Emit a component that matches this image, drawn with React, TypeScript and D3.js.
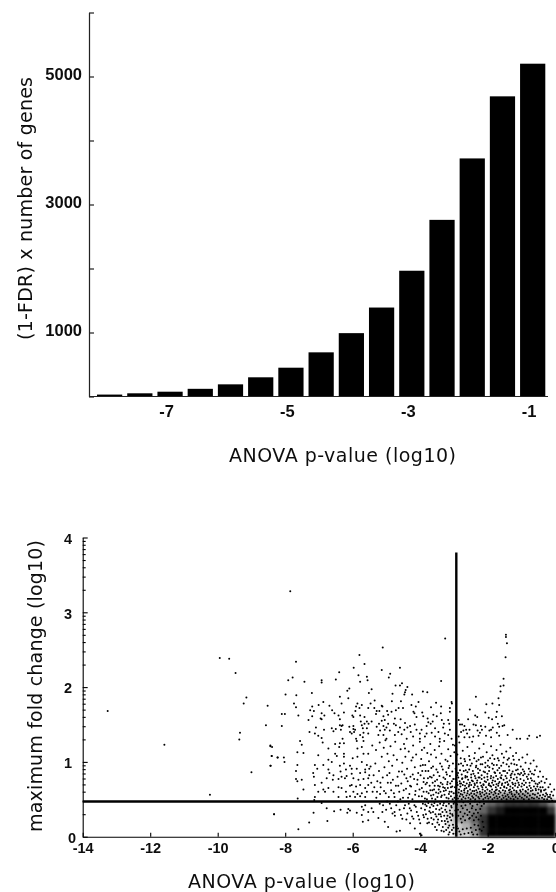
import React, { useRef, useEffect } from "react";
import { select, scaleLinear, scaleBand, axisLeft, axisBottom, range } from "d3";

// top chart
const barBins = [-8, -7.5, -7, -6.5, -6, -5.5, -5, -4.5, -4, -3.5, -3, -2.5, -2, -1.5, -1];
const barValues = [30, 50, 75, 120, 190, 300, 450, 690, 990, 1390, 1965, 2760, 3720, 4690, 5200];
const barYTicks = [0, 1000, 2000, 3000, 4000, 5000, 6000];
const barYLabels = [1000, 3000, 5000];
const barXLabels = [-7, -5, -3, -1];

// bottom chart
const scatterXTicks = [-14, -12, -10, -8, -6, -4, -2, 0];
const scatterYLabels = [0, 1, 2, 3, 4];
const minorFactors = [2, 3, 4, 5, 6, 7, 8, 9];
const cutoffP = -2.93;
const cutoffFold = 0.47;
const cutoffTop = 3.8;

// dots that could be read one by one (log10 p, log10 fold)
const sparsePoints = [
  [-13.26,1.68],[-11.58,1.23],[-10.23,.56],[-9.94,2.39],[-9.66,2.38],[-9.47,2.19],[-9.15,1.86],[-9.23,1.78],[-8.52,1.75],[-8.57,1.49],
  [-9.34,1.39],[-9.36,1.3],[-8.44,1.22],[-8.39,1.2],[-8.4,1.08],[-8.23,1.06],[-8.43,.95],[-9,.86],[-8.33,.3],[-7.85,3.28],[-3.26,2.65],
  [-1.46,2.7],[-1.46,2.67],[-1.43,2.585],[-1.47,2.4],
  [-5.8,2.43],[-7.68,2.34],[-5.65,2.31],[-5.97,2.26],[-6.4,2.2],[-5.83,2.16],[-7.78,2.13],[-7.91,2.09],[-6.5,2.1],[-6.92,2.09],[-6.92,2.06],
  [-7.43,2.07],[-5.58,2.14],[-5.78,2.07],[-5.56,2.09],[-6.1,1.98],[-6.16,1.95],[-7.21,1.92],[-7.99,1.9],[-7.67,1.89],[-5.52,1.92],[-6.38,1.87],
  [-6.13,1.85],[-6.87,1.8],[-7.74,1.78],[-6.33,1.78],[-7.01,1.76],[-7.68,1.73],[-7.2,1.74],[-6.69,1.75],[-5.86,1.78],[-5.73,1.76],[-5.9,1.74],
  [-5.8,1.72],[-7.26,1.69],[-7.15,1.68],[-6.61,1.69],[-5.92,1.68],[-5.54,1.72],[-6.26,1.66],[-6.92,1.65],[-6.54,1.65],[-8.1,1.64],[-8.01,1.64],
  [-7.61,1.62],[-7.2,1.61],[-6.84,1.62],[-6.42,1.62],[-6.01,1.62],[-5.98,1.6],[-5.78,1.62],[-5.65,1.6],[-6.95,1.58],[-6.92,1.57],[-7.31,1.56],
  [-6.38,1.57],[-5.76,1.54],[-5.58,1.54],[-8.1,1.48],[-6.38,1.49],[-6.33,1.48],[-6.3,1.49],[-5.98,1.48],[-5.73,1.49],[-5.65,1.51],[-5.53,1.51],
  [-7.09,1.46],[-6.62,1.45],[-6.5,1.44],[-6.1,1.47],[-5.98,1.44],[-7.28,1.4],[-6.85,1.43],[-6.57,1.41],[-6.35,1.43],[-6.08,1.4],[-5.93,1.43],
  [-5.7,1.45],[-5.58,1.45],[-7.12,1.38],[-7.02,1.35],[-6.92,1.32],[-6.03,1.38],[-5.96,1.4],[-5.78,1.36],[-5.68,1.39],[-5.54,1.38],[-6.3,1.31],
  [-5.9,1.31],[-5.7,1.33],
  [-5.11,2.53],[-4.6,2.26],[-5.14,2.23],[-4.89,2.18],[-4.93,2.13],[-3.38,2.08],[-4.54,2.05],[-4.73,2.02],[-4.6,2.02],[-4.38,2],[-5.44,1.97],
  [-4.43,1.96],[-4.45,1.93],[-4.82,1.91],[-4.47,1.9],[-4.24,1.9],[-3.92,1.94],[-3.79,1.93],[-4.84,1.81],[-4.57,1.81],[-5.35,1.82],[-4.05,1.8],
  [-3.53,1.79],[-5.47,1.78],[-5.14,1.75],[-5.12,1.74],[-4.26,1.76],[-4.13,1.74],[-3.68,1.73],[-3.38,1.74],[-4.64,1.72],[-4.51,1.72],[-5.36,1.72],
  [-5.29,1.68],[-5.21,1.68],[-4.98,1.68],[-4.85,1.67],[-4.72,1.69],[-4.2,1.67],[-4.17,1.65],[-3.94,1.66],[-3.12,1.72],[-3.07,1.8],[-3.06,1.78],
  [-3.12,1.67],[-3.39,1.65],[-3.61,1.63],[-3.51,1.61],[-3.78,1.58],[-4.11,1.6],[-3.91,1.61],[-4.75,1.58],[-4.95,1.63],[-5.09,1.61],[-5.31,1.64],
  [-4.58,1.57],[-5.05,1.56],[-5.14,1.55],[-5.44,1.54],[-5.22,1.51],[-4.95,1.51],[-4.78,1.51],[-4.72,1.49],[-4.45,1.52],[-4.3,1.48],[-4.16,1.5],
  [-3.76,1.53],[-3.63,1.54],[-3.69,1.51],[-3.36,1.56],[-3.3,1.51],[-3.17,1.56],[-3.14,1.51],[-5.29,1.47],[-5.09,1.48],[-5,1.46],[-4.6,1.46],
  [-4.47,1.43],[-4.38,1.46],[-4.11,1.43],[-3.96,1.43],[-3.81,1.48],[-3.56,1.45],[-3.46,1.4],[-3.32,1.46],[-3.12,1.43],[-5.19,1.42],[-5.05,1.43],
  [-4.9,1.42],[-4.65,1.4],[-4.28,1.4],[-4.01,1.38],[-3.81,1.38],[-3.66,1.39],[-3.27,1.38],[-3.17,1.36],[-5.24,1.36],[-5.09,1.36],[-4.75,1.36],
  [-4.55,1.37],[-4.21,1.34],[-3.86,1.34],[-3.56,1.34],[-5,1.31],[-4.4,1.31],[-4.01,1.31],[-3.42,1.31],[-3.07,1.31],
  [-1.53,2.11],[-1.53,2.02],[-1.62,2.01],[-1.62,1.94],[-1.68,1.85],[-2.35,1.87],[-2.04,1.77],[-1.86,1.78],[-1.66,1.76],[-2.53,1.7],[-1.73,1.67],
  [-2.07,1.66],[-2.37,1.62],[-2.31,1.6],[-1.97,1.59],[-1.87,1.57],[-1.75,1.6],[-1.58,1.61],[-2.86,1.56],[-2.58,1.57],[-1.7,1.51],[-1.66,1.47],
  [-1.51,1.49],[-1.56,1.48],[-2.82,1.5],[-2.76,1.5],[-2.42,1.5],[-2.35,1.49],[-2.2,1.48],[-2.07,1.47],[-1.85,1.46],[-2.69,1.48],[-2.54,1.43],
  [-2.64,1.43],[-2.72,1.42],[-2.17,1.43],[-1.95,1.42],[-1.73,1.39],[-1.26,1.43],[-2.79,1.4],[-2.61,1.38],[-2.3,1.42],[-2.23,1.39],[-1.9,1.43],
  [-1.41,1.36],[-2.86,1.34],[-2.69,1.33],[-2.54,1.33],[-2.43,1.34],[-2.27,1.35],[-2.05,1.35],[-1.9,1.33],[-1.66,1.35],[-1.04,1.31],[-.77,1.35],
  [-.54,1.33],[-.45,1.35],[-1.14,1.31],[-.82,1.31],
  [-7.56,1.28],[-6.89,1.26],[-7.51,1.23],[-8.44,1.21],[-6.72,1.18],[-6.52,1.24],[-6.38,1.25],[-6.26,1.25],[-5.88,1.28],[-5.68,1.28],[-5.73,1.2],
  [-5.86,1.18],[-6.4,1.2],[-7.64,1.13],[-7.46,1.12],[-6.52,1.11],[-6.47,1.08],[-6.26,1.11],[-6.26,1.07],[-7.02,1.09],[-8.4,1.08],[-8.22,1.06],
  [-8.04,1.06],[-8.02,1],[-8.44,.95],[-6.72,1.03],[-6.62,1],[-6,1.05],[-5.86,1.07],[-5.68,1.11],[-5.54,1.11],[-7.64,.96],[-7.12,.96],[-7.05,.91],
  [-6.87,.96],[-6.38,.95],[-6.26,.98],[-6.08,.95],[-5.73,1],[-5.58,.96],[-7.68,.88],[-7.17,.85],[-7.15,.8],[-6.72,.9],[-6.69,.85],[-6.57,.82],
  [-6.36,.87],[-6.2,.9],[-6.03,.91],[-5.88,.91],[-5.63,.9],[-5.51,.91],[-6.33,.8],[-6.18,.81],[-6.03,.84],[-5.78,.85],[-5.63,.86],[-5.51,.82],
  [-7.68,.77],[-7.64,.74],[-7.51,.76],[-6.77,.78],[-6.59,.76],[-6.42,.77],[-6.23,.78],[-5.98,.78],[-5.83,.76],[-5.68,.77],[-5.54,.78],[-7.12,.69],
  [-6.92,.72],[-6.87,.63],[-7.46,.63],[-7.02,.6],[-6.82,.6],[-6.72,.65],[-6.57,.6],[-6.42,.66],[-6.33,.65],[-6.08,.68],[-6.03,.69],[-5.9,.67],
  [-5.78,.69],[-5.63,.65],[-5.54,.69],[-6.2,.6],[-5.98,.6],[-5.86,.57],[-5.73,.58],[-5.58,.6],[-6.42,.53],[-6.18,.53],[-6.08,.54],[-5.93,.53],
  [-5.78,.54],[-5.63,.53],[-7.63,.51],[-7.12,.53],[-7.14,.49],[-6.92,.45],[-6.77,.38],[-6.55,.34],[-6.36,.36],[-6.13,.37],[-6.08,.35],[-6.16,.32],
  [-5.88,.32],[-5.73,.4],[-5.68,.36],[-5.63,.42],[-8.33,.3],[-7.16,.32],[-6.75,.21],[-7.29,.19],[-7.61,.1],[-5.73,.29],[-5.7,.2],[-5.54,.33],[-5.54,.22],
  [-5.44,.38],[-5.39,.33],[-5.24,.25],[-5.05,.2],[-4.75,.28],[-4.3,.18],[-4.16,.11],[-4.7,.07],[-4.6,.08],[-4.01,.04],[-3.96,.02],[-3.37,.08],[-3.3,.07],[-3.51,.09],[-4.95,.13],
];

// dots estimated by eye inside the crowded cloud, less exact than the ones above
const cloudPoints = [
  [-5.42,1.22],[-5.31,1.16],[-5.2,1.26],[-5.14,1.07],[-5.08,1.19],[-5.03,1.29],[-4.97,1.11],[-4.93,1.01],[-4.88,1.21],[-4.83,.95],[-4.79,1.09],[-4.74,1.27],
  [-4.69,1.03],[-4.63,.87],[-4.58,1.17],[-4.53,.99],[-4.48,1.24],[-4.44,1.07],[-4.39,.91],[-4.34,1.14],[-4.29,.8],[-4.26,1.02],[-4.21,1.22],[-4.16,.93],
  [-4.12,1.1],[-4.06,.85],[-4.01,1.27],[-3.97,1.04],[-3.92,.96],[-3.88,1.19],[-3.84,.88],[-3.79,1.12],[-3.74,1.01],[-3.7,1.24],[-3.66,.79],[-3.62,.94],
  [-3.57,1.16],[-3.53,1.06],[-3.48,.86],[-3.44,1.21],[-3.41,.98],[-3.37,1.11],[-3.33,.9],[-3.29,1.28],[-3.25,1.03],[-3.21,.83],[-3.17,1.17],[-3.14,.95],
  [-3.1,1.08],[-3.06,.74],[-3.03,1.23],[-5.47,.94],[-5.38,.82],[-5.33,.98],[-5.27,.74],[-5.22,.88],[-5.17,.66],[-5.11,.79],[-5.06,.93],[-5.02,.58],
  [-4.96,.72],[-4.91,.85],[-4.86,.62],[-4.81,.76],[-4.76,.53],[-4.72,.68],[-4.67,.8],[-4.62,.6],[-4.56,.71],[-4.51,.52],[-4.47,.83],[-4.42,.64],
  [-4.37,.74],[-4.32,.57],[-4.27,.67],[-4.23,.5],[-4.18,.77],[-4.14,.61],[-4.09,.7],[-4.04,.54],[-3.99,.82],[-3.95,.65],[-3.9,.73],[-3.86,.51],
  [-3.81,.6],[-3.77,.78],[-3.72,.68],[-3.68,.55],[-3.63,.72],[-3.59,.63],[-3.55,.5],[-3.5,.76],[-3.46,.58],[-3.42,.67],[-3.38,.53],[-3.34,.7],
  [-3.3,.61],[-3.26,.77],[-3.22,.52],[-3.18,.65],[-3.15,.57],[-3.11,.71],[-3.07,.6],[-3.04,.5],[-5.41,.6],[-5.3,.52],[-5.19,.57],[-5.1,.42],
  [-5.01,.36],[-4.9,.44],[-4.82,.31],[-4.71,.42],[-4.61,.36],[-4.53,.24],[-4.45,.42],[-4.38,.31],[-4.31,.38],[-4.24,.27],[-4.17,.42],[-4.1,.33],
  [-4.03,.23],[-3.97,.38],[-3.91,.29],[-3.85,.43],[-3.79,.18],[-3.73,.34],[-3.67,.25],[-3.61,.41],[-3.55,.3],[-3.49,.19],[-3.43,.36],[-3.38,.27],
  [-3.32,.42],[-3.27,.21],[-3.22,.33],[-3.17,.12],[-3.12,.26],[-3.07,.39],[-3.03,.16],[-2.97,1.22],[-2.9,1.1],[-2.84,1.26],[-2.79,.98],[-2.74,1.15],
  [-2.69,1.04],[-2.65,.89],[-2.6,1.2],[-2.55,1.08],[-2.51,.95],[-2.46,1.27],[-2.42,.84],[-2.38,1.12],[-2.33,1.01],[-2.29,.91],[-2.25,1.18],[-2.2,1.06],
  [-2.16,.97],[-2.12,1.24],[-2.08,.86],[-2.03,1.13],[-1.99,1.02],[-1.95,.93],[-1.9,1.21],[-1.86,1.09],[-1.82,.96],[-1.78,.85],[-1.74,1.16],[-1.7,1.05],
  [-1.66,.92],[-1.62,1.23],[-1.58,1.11],[-1.54,.99],[-1.49,.88],[-1.45,1.14],[-1.41,1.03],[-1.37,.94],[-1.33,1.19],[-1.29,.84],[-1.25,1.08],[-1.21,.97],
  [-1.16,1.12],[-1.11,.9],[-1.07,1.03],[-1.02,.94],[-.97,1.06],[-.92,.87],[-.88,.99],[-.83,1.1],[-.78,.91],[-.73,.98],[-.69,.84],[-.64,1.02],
  [-.6,.89],[-.55,.94],[-.5,.8],[-.45,.87],[-.41,.74],[-.36,.8],[-.31,.72],[-.26,.77],[-.2,.66],[-.15,.7],[-.11,.6],[-.06,.55],[-.03,.63],[-.44,.66],
  [-.62,.74],[-.72,.78],[-.84,.8],[-.95,.82],[-1.05,.83],[-1.14,.79],[-.52,.7],[-.33,.62],[-.24,.56],[-.16,.53],[-2.9,.82],[-2.82,.71],[-2.75,.78],
  [-2.68,.64],[-2.61,.8],[-2.55,.69],[-2.47,.75],[-2.4,.61],[-2.32,.72],[-2.24,.79],[-2.16,.66],[-2.09,.74],[-2.01,.8],[-1.93,.68],[-1.85,.75],
  [-1.76,.62],[-1.68,.71],[-1.6,.78],[-1.51,.66],[-1.42,.73],[-1.34,.63],[-1.25,.7],[-2.92,.14],[-2.84,.07],[-2.77,.19],[-2.69,.04],[-2.62,.11],
  [-2.55,.24],[-2.47,.06],[-2.39,.16],[-2.31,.03],[-2.24,.1],
];

// more eye estimates for the thick band right and left of the vertical cutoff
const cloudPointsDense = [
  [-2.98,.52],[-2.95,.58],[-2.92,.55],[-2.88,.51],[-2.86,.59],[-2.83,.54],[-2.8,.57],[-2.77,.5],[-2.75,.56],[-2.72,.53],[-2.69,.59],[-2.66,.51],[-2.63,.55],[-2.6,.58],[-2.57,.52],[-2.54,.56],
  [-2.51,.5],[-2.49,.58],[-2.46,.54],[-2.43,.52],[-2.4,.57],[-2.37,.5],[-2.34,.55],[-2.31,.59],[-2.28,.53],[-2.25,.51],[-2.22,.57],[-2.19,.54],[-2.16,.59],[-2.13,.5],[-2.1,.56],[-2.07,.52],
  [-2.04,.58],[-2.01,.54],[-1.98,.51],[-1.95,.57],[-1.92,.53],[-1.89,.59],[-1.86,.5],[-1.83,.56],[-1.8,.52],[-1.77,.58],[-1.74,.54],[-1.71,.51],[-1.68,.57],[-1.65,.53],[-1.62,.59],[-1.59,.5],
  [-1.56,.55],[-1.53,.52],[-1.5,.58],[-1.47,.54],[-1.44,.5],[-1.41,.56],[-1.38,.53],[-1.35,.59],[-1.32,.51],[-1.29,.57],[-1.26,.54],[-1.23,.5],[-1.2,.56],[-1.17,.53],[-1.14,.59],[-1.11,.51],
  [-1.08,.57],[-1.05,.54],[-1.02,.6],[-.99,.52],[-.96,.57],[-.93,.5],[-.9,.55],[-.87,.6],[-.84,.53],[-.81,.58],[-.78,.5],[-.75,.55],[-.72,.61],[-.69,.52],[-.66,.57],[-.63,.51],[-.6,.56],
  [-.57,.62],[-.54,.53],[-.51,.58],[-.48,.51],[-.45,.55],[-.42,.6],[-.39,.52],[-.36,.56],[-.33,.5],[-.3,.54],[-.27,.58],[-.24,.5],[-.21,.53],[-.18,.47],[-.15,.56],[-.12,.51],[-.09,.48],
  [-2.97,.66],[-2.94,.61],[-2.89,.69],[-2.85,.63],[-2.81,.67],[-2.78,.61],[-2.74,.69],[-2.7,.62],[-2.67,.68],[-2.63,.65],[-2.59,.61],[-2.56,.67],[-2.52,.63],[-2.49,.69],[-2.45,.61],[-2.41,.66],
  [-2.38,.69],[-2.34,.62],[-2.3,.67],[-2.27,.64],[-2.23,.6],[-2.19,.68],[-2.15,.63],[-2.12,.69],[-2.08,.61],[-2.05,.66],[-2.01,.63],[-1.97,.69],[-1.94,.61],[-1.9,.67],[-1.87,.63],[-1.83,.69],
  [-1.8,.6],[-1.76,.66],[-1.73,.63],[-1.69,.68],[-1.66,.61],[-1.62,.65],[-1.58,.69],[-1.55,.62],[-1.51,.67],[-1.48,.61],[-1.44,.65],[-1.4,.69],[-1.37,.62],[-1.33,.67],[-1.3,.6],[-1.26,.65],
  [-1.22,.62],[-1.19,.68],[-1.15,.61],[-1.11,.66],[-1.07,.69],[-1.04,.62],[-1,.67],[-.96,.63],[-.92,.69],[-.88,.61],[-.84,.66],[-.8,.63],[-.76,.68],[-.72,.65],[-.67,.62],[-.63,.67],[-.58,.64],
  [-.53,.67],[-.49,.63],[-.42,.62],[-.37,.66],[-.29,.63],[-2.96,.77],[-2.91,.72],[-2.87,.79],[-2.83,.74],[-2.79,.71],[-2.76,.77],[-2.71,.73],[-2.66,.79],[-2.62,.71],[-2.58,.76],[-2.53,.72],
  [-2.49,.79],[-2.44,.74],[-2.39,.71],[-2.36,.78],[-2.31,.75],[-2.27,.79],[-2.22,.72],[-2.18,.77],[-2.13,.7],[-2.1,.79],[-2.05,.73],[-2,.76],[-1.96,.71],[-1.91,.78],[-1.87,.72],[-1.83,.79],
  [-1.78,.74],[-1.74,.7],[-1.7,.77],[-1.65,.73],[-1.62,.79],[-1.57,.71],[-1.53,.76],[-1.48,.72],[-1.44,.78],[-1.39,.7],[-1.35,.75],[-1.31,.79],[-1.27,.72],[-1.23,.77],[-1.18,.71],[-1.13,.75],
  [-1.09,.72],[-1.03,.77],[-.98,.71],[-.93,.75],[-.87,.72],[-.81,.77],[-.76,.72],[-.69,.75],[-.58,.71],[-.47,.72],[-2.95,.91],[-2.88,.85],[-2.82,.89],[-2.77,.83],[-2.71,.88],[-2.66,.81],
  [-2.6,.86],[-2.55,.9],[-2.49,.83],[-2.44,.88],[-2.38,.81],[-2.35,.93],[-2.28,.85],[-2.23,.89],[-2.18,.82],[-2.12,.87],[-2.07,.93],[-2.01,.84],[-1.96,.88],[-1.9,.81],[-1.85,.91],[-1.8,.86],
  [-1.75,.81],[-1.71,.89],[-1.64,.85],[-1.59,.82],[-1.54,.88],[-1.47,.81],[-1.42,.85],[-1.36,.89],[-1.32,.82],[-1.26,.87],[-1.2,.83],[-1.16,.89],[-1.1,.84],[-1.01,.85],[-.96,.9],[-.9,.84],
  [-.79,.83],[-.74,.87],[-.63,.83],[-2.93,1.02],[-2.86,.97],[-2.8,1.05],[-2.73,.95],[-2.67,1.01],[-2.61,.96],[-2.53,1.03],[-2.47,.98],[-2.4,1.05],[-2.34,.95],[-2.27,1.03],[-2.21,.97],[-2.14,1.07],
  [-2.07,.99],[-2,.95],[-1.93,1.05],[-1.87,.98],[-1.8,1.04],[-1.73,.96],[-1.67,1.02],[-1.6,.95],[-1.52,1.06],[-1.44,.97],[-1.37,1.05],[-1.3,.98],[-1.23,1.03],[-1.14,.96],[-3.99,.95],[-3.94,.88],
  [-3.89,.78],[-3.85,.96],[-3.8,.72],[-3.76,.88],[-3.71,.8],[-3.67,.92],[-3.64,.62],[-3.6,.82],[-3.56,.74],[-3.52,.9],[-3.47,.68],[-3.43,.81],[-3.39,.72],[-3.36,.94],[-3.31,.79],[-3.27,.65],
  [-3.23,.86],[-3.19,.73],[-3.16,.92],[-3.12,.81],[-3.09,.66],[-3.05,.87],[-3.02,.77],[-3.03,.98],[-3.95,.54],[-3.9,.6],[-3.84,.7],[-3.8,.5],[-3.75,.58],[-3.7,.62],[-3.65,.51],[-3.61,.56],
  [-3.57,.68],[-3.53,.59],[-3.49,.53],[-3.45,.63],[-3.4,.6],[-3.36,.55],[-3.32,.66],[-3.28,.56],[-3.24,.62],[-3.2,.7],[-3.16,.51],[-3.13,.6],[-3.09,.54],[-3.05,.67],[-3.01,.58],[-3.92,.44],
  [-3.86,.36],[-3.81,.41],[-3.76,.45],[-3.71,.39],[-3.66,.43],[-3.62,.33],[-3.58,.45],[-3.53,.37],[-3.49,.42],[-3.45,.3],[-3.41,.44],[-3.37,.38],[-3.34,.33],[-3.3,.45],[-3.26,.36],[-3.23,.41],
  [-3.19,.28],[-3.15,.44],[-3.12,.35],[-3.08,.41],[-3.05,.3],[-3.01,.44],[-3.89,.26],[-3.83,.3],[-3.78,.24],[-3.74,.19],[-3.69,.32],[-3.64,.17],[-3.6,.23],[-3.56,.13],[-3.52,.27],[-3.47,.23],
  [-3.44,.16],[-3.4,.3],[-3.36,.21],[-3.33,.13],[-3.29,.28],[-3.25,.17],[-3.21,.24],[-3.18,.2],[-3.14,.15],[-3.11,.31],[-3.08,.22],[-3.04,.28],[-3.01,.12],[-3.13,.06],[-3.06,.09],[-3.02,.04],
  [-3.16,.03],[-3.23,.09],[-2.98,.46],[-2.91,.43],[-2.84,.47],[-2.78,.41],[-2.72,.46],[-2.66,.42],[-2.58,.47],[-2.52,.44],[-2.45,.41],[-2.38,.47],[-2.31,.43],[-2.24,.46],[-2.18,.41],[-2.11,.44],
  [-2.88,.36],[-2.81,.33],[-2.74,.38],[-2.68,.31],[-2.61,.36],[-2.54,.33],[-2.47,.38],[-2.41,.31],[-2.35,.36],[-2.29,.32],[-2.22,.37],[-2.96,.35],[-2.93,.26],[-2.87,.28],[-2.8,.24],[-2.73,.27],
  [-2.67,.22],[-2.6,.29],[-2.53,.25],[-2.46,.28],[-2.41,.22],[-2.34,.26],[-2.27,.23],[-2.2,.28],[-2.15,.2],[-2.12,.13],[-2.18,.08],[-2.95,.04],[-2.88,.11],[-2.8,.03],[-2.74,.1],[-2.57,.05],
  [-2.5,.12],[-2.43,.03],[-2.35,.09],[-2.28,.15],[-5.45,.72],[-5.36,.66],[-5.28,.6],[-5.18,.72],[-5.07,.61],[-4.98,.82],[-4.93,.53],[-4.87,.72],[-4.78,.58],[-4.65,.68],[-4.59,.5],[-4.54,.87],
  [-4.49,.62],[-4.41,.78],[-4.36,.52],[-4.3,.68],[-4.22,.83],[-4.15,.56],[-4.08,.76],[-4.02,.63],[-5.2,.44],[-5.12,.33],[-4.98,.47],[-4.86,.38],[-4.76,.33],[-4.66,.47],[-4.57,.29],[-4.48,.38],
  [-4.41,.23],[-4.34,.44],[-4.27,.35],[-4.2,.24],[-4.13,.4],[-4.06,.28],[-4,.18],[-4.45,1.18],[-4.22,1.06],[-3.95,1.16],[-3.68,1.1],[-3.42,1.27],[-3.19,1.01],[-2.99,1.13],
];

// darkness (0-10) of the crowded part, read per 0.25 x 0.1 cell: the overplotted
// dots can't be told apart there so the picture only gives how black each cell is
const densityX = [-4, -3.75, -3.5, -3.25, -3, -2.75, -2.5, -2.25, -2, -1.75, -1.5, -1.25, -1, -0.75, -0.5, -0.25];
const densityStepX = 0.25;
const densityStepY = 0.1;
const densityRows = [
  { y: 0.5, cells: [0, 0, 0, 0, 2, 2, 3, 3, 3, 3, 4, 4, 4, 3, 1, 0] },
  { y: 0.4, cells: [0, 0, 0, 1, 4, 4, 4, 5, 6, 7, 8, 8, 8, 8, 7, 5] },
  { y: 0.3, cells: [0, 0, 0, 1, 4, 4, 5, 6, 8, 9, 10, 10, 10, 10, 10, 8] },
  { y: 0.2, cells: [0, 0, 0, 1, 4, 4, 6, 8, 10, 10, 10, 10, 10, 10, 10, 10] },
  { y: 0.1, cells: [0, 0, 0, 1, 2, 3, 5, 8, 10, 10, 10, 10, 10, 10, 10, 10] },
  { y: 0.0, cells: [0, 0, 0, 0, 2, 2, 4, 8, 10, 10, 10, 10, 10, 10, 10, 10] },
];

const axisFont = "'Liberation Sans', Arial, sans-serif";
const titleFont = "'DejaVu Sans', sans-serif";

function App() {
  const svgRef = useRef(null);

  useEffect(() => {
    const svg = select(svgRef.current);
    svg.selectAll("*").remove();

    const defs = svg.append("defs");
    const addBlur = (id, amount) =>
      defs
        .append("filter")
        .attr("id", id)
        .attr("x", "-5%")
        .attr("y", "-5%")
        .attr("width", "110%")
        .attr("height", "110%")
        .append("feGaussianBlur")
        .attr("stdDeviation", amount);
    addBlur("soft", 0.35);
    addBlur("core", 1.6);

    const root = svg.append("g").attr("filter", "url(#soft)");

    const addTitle = (transform, label, length) =>
      root
        .append("text")
        .attr("transform", transform)
        .attr("text-anchor", "middle")
        .attr("font-family", titleFont)
        .attr("font-size", 19)
        .attr("fill", "#111")
        .attr("textLength", length)
        .text(label);

    // ---- top bar chart
    const barX = scaleBand().domain(barBins).range([97, 545.3]).paddingInner(0.165);
    const barY = scaleLinear().domain([0, 6000]).range([396.5, 12.5]);

    root
      .selectAll(".bar")
      .data(barValues)
      .join("rect")
      .attr("class", "bar")
      .attr("x", (d, i) => barX(barBins[i]))
      .attr("y", (d) => barY(d))
      .attr("width", barX.bandwidth())
      .attr("height", (d) => barY(0) - barY(d))
      .attr("fill", "black");

    const barYAxis = axisLeft(barY)
      .tickValues(barYTicks)
      .tickSize(-5)
      .tickSizeOuter(0)
      .tickPadding(7)
      .tickFormat((d) => (barYLabels.includes(d) ? d : ""));
    const barYG = root.append("g").attr("transform", "translate(89,0)").call(barYAxis);

    root
      .append("line")
      .attr("x1", 89)
      .attr("x2", 548)
      .attr("y1", barY(0))
      .attr("y2", barY(0))
      .attr("stroke", "#222")
      .attr("stroke-width", 1.2);

    const barXAxis = axisBottom(barX)
      .tickValues(barXLabels)
      .tickSize(0)
      .tickPadding(9)
      .tickFormat((d) => d);
    const barXG = root.append("g").attr("transform", `translate(-3.5,${barY(0)})`).call(barXAxis);
    barXG.select(".domain").remove();

    [barYG, barXG].forEach((g) => {
      g.selectAll("text").attr("font-family", axisFont).attr("font-weight", "bold").attr("font-size", 16.5).attr("fill", "#111");
      g.selectAll("line,path").attr("stroke", "#222").attr("stroke-width", 1.2);
    });
    barYG.selectAll("text").attr("dy", "0.2em");

    addTitle("translate(342.5,462)", "ANOVA p-value (log10)", 227);
    addTitle("translate(31.5,208.5) rotate(-90)", "(1-FDR) x number of genes", 263);

    // ---- bottom scatter
    const x = scaleLinear().domain([-14, 0]).range([82.7, 555.2]);
    const y = scaleLinear().domain([0, 4]).range([836.7, 537.5]);

    const density = densityRows.flatMap((row) =>
      row.cells.map((v, i) => ({ x0: densityX[i], y0: row.y, v }))
    );
    root
      .append("g")
      .attr("filter", "url(#core)")
      .selectAll(".cell")
      .data(density.filter((d) => d.v > 0))
      .join("rect")
      .attr("class", "cell")
      .attr("x", (d) => x(d.x0))
      .attr("y", (d) => y(d.y0 + densityStepY))
      .attr("width", x(densityStepX) - x(0) + 0.5)
      .attr("height", y(0) - y(densityStepY) + 0.5)
      .attr("fill", "black")
      .attr("opacity", (d) => d.v / 10);

    root
      .selectAll(".dot")
      .data(sparsePoints.concat(cloudPoints, cloudPointsDense))
      .join("circle")
      .attr("class", "dot")
      .attr("cx", (d) => x(d[0]))
      .attr("cy", (d) => y(d[1]))
      .attr("r", 1)
      .attr("fill", "black");

    // log-spaced ticks in every decade
    const minorTicks = range(0, 4).flatMap((decade) => minorFactors.map((f) => decade + Math.log10(f)));
    const minorAxis = axisLeft(y).tickValues(minorTicks).tickSize(-3).tickSizeOuter(0).tickFormat("");
    const minorG = root.append("g").attr("transform", `translate(${x(-14)},0)`).call(minorAxis);
    minorG.select(".domain").remove();

    const yAxis = axisLeft(y)
      .tickValues(scatterYLabels)
      .tickSize(-5)
      .tickSizeOuter(0)
      .tickPadding(10.5)
      .tickFormat((d) => d);
    const yG = root.append("g").attr("transform", `translate(${x(-14)},0)`).call(yAxis);
    yG.selectAll("text").attr("dy", "0.4em");
    yG.selectAll(".tick").filter((d) => d === 0).select("text").attr("x", -6.5).attr("dy", "0.42em");

    const xAxis = axisBottom(x)
      .tickValues(scatterXTicks)
      .tickSize(-4)
      .tickSizeOuter(0)
      .tickPadding(6.5)
      .tickFormat((d) => d);
    const xG = root.append("g").attr("transform", `translate(0,${y(0)})`).call(xAxis);

    [yG, xG, minorG].forEach((g) => {
      g.selectAll("text").attr("font-family", axisFont).attr("font-weight", "bold").attr("font-size", 14.5).attr("fill", "#111");
      g.selectAll("line,path").attr("stroke", "black").attr("stroke-width", 1.1);
    });

    // cutoff lines
    root
      .append("line")
      .attr("x1", x(-14))
      .attr("x2", x(0) + 1)
      .attr("y1", y(cutoffFold))
      .attr("y2", y(cutoffFold))
      .attr("stroke", "black")
      .attr("stroke-width", 2.4);
    root
      .append("line")
      .attr("x1", x(cutoffP))
      .attr("x2", x(cutoffP))
      .attr("y1", y(cutoffTop))
      .attr("y2", y(0))
      .attr("stroke", "black")
      .attr("stroke-width", 2.4);

    addTitle("translate(301.5,888)", "ANOVA p-value (log10)", 227);
    addTitle("translate(41.5,686) rotate(-90)", "maximum fold change (log10)", 292);
  }, []);

  return (
    <svg
      ref={svgRef}
      width={556}
      height={892}
      style={{ position: "absolute", left: 0, top: 0, display: "block", background: "white" }}
    />
  );
}

export default App;
